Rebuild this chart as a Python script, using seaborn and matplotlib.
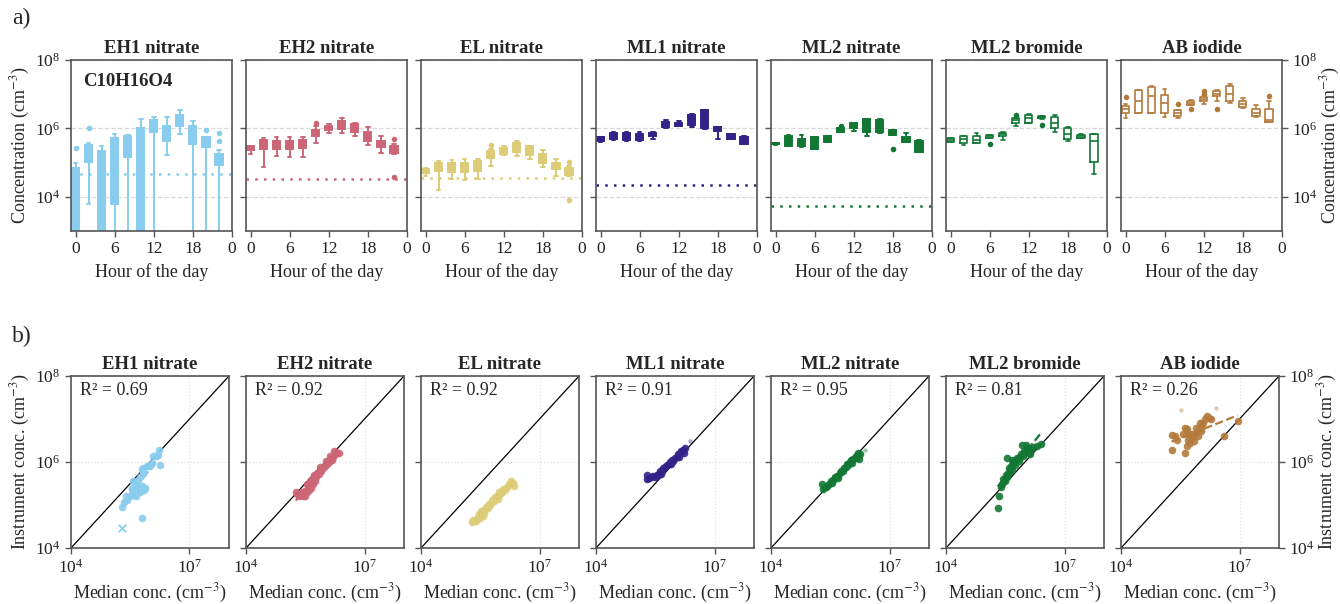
import numpy as np
import pandas as pd
import matplotlib
matplotlib.use("Agg")
import matplotlib.pyplot as plt
from matplotlib.ticker import NullLocator
import seaborn as sns

# ---- data (log10 of concentration, cm-3) ----
hours = [0, 2, 4, 6, 8, 10, 12, 14, 16, 18, 20, 22]
names = ["EH1 nitrate", "EH2 nitrate", "EL nitrate", "ML1 nitrate",
         "ML2 nitrate", "ML2 bromide", "AB iodide"]
colors = ["#88CCEE", "#CC6677", "#DDCC77", "#332288", "#117733", "#117733", "#B37A3C"]
filled = [True, True, True, True, True, False, False]
lod = [4.66, 4.52, 4.55, 4.35, 3.72, None, None]   # detection limit lines
r2 = ["0.69", "0.92", "0.92", "0.91", "0.95", "0.81", "0.26"]

# diurnal boxes: (whisker low, q1, median, q3, whisker high) per hour
box_eh1 = [(1.5, 2.0, 3.5, 4.85, 4.98), (3.80, 5.02, 5.30, 5.52, 5.58), (2.0, 2.5, 4.5, 5.34, 5.50),
           (2.0, 3.78, 5.0, 5.73, 5.85), (2.0, 5.17, 5.5, 5.78, 5.80), (2.0, 2.5, 5.0, 6.0, 6.27),
           (2.0, 5.89, 6.1, 6.24, 6.33), (5.22, 5.62, 5.85, 6.07, 6.33), (5.85, 6.07, 6.25, 6.39, 6.54),
           (2.0, 5.55, 5.85, 6.06, 6.22), (2.0, 5.47, 5.6, 5.74, 5.76), (2.0, 4.93, 5.1, 5.26, 5.36)]
box_eh2 = [(5.26, 5.36, 5.42, 5.48, 5.49), (4.86, 5.41, 5.55, 5.65, 5.72), (5.19, 5.40, 5.52, 5.63, 5.74),
           (5.17, 5.39, 5.50, 5.62, 5.74), (5.17, 5.42, 5.55, 5.67, 5.76), (5.58, 5.78, 5.88, 5.96, 6.06),
           (5.87, 5.94, 6.02, 6.08, 6.14), (5.88, 5.98, 6.10, 6.21, 6.31), (5.79, 5.90, 6.02, 6.12, 6.16),
           (5.52, 5.64, 5.78, 5.89, 6.05), (5.28, 5.45, 5.55, 5.63, 5.77), (5.26, 5.29, 5.40, 5.50, 5.55)]
box_el = [(4.61, 4.71, 4.77, 4.82, 4.83), (4.20, 4.75, 4.88, 5.00, 5.05), (4.53, 4.73, 4.85, 4.99, 5.08),
          (4.50, 4.73, 4.85, 4.99, 5.10), (4.52, 4.75, 4.90, 5.04, 5.10), (4.91, 5.14, 5.25, 5.34, 5.41),
          (5.23, 5.26, 5.35, 5.44, 5.48), (5.20, 5.30, 5.45, 5.56, 5.64), (5.11, 5.23, 5.38, 5.49, 5.50),
          (4.86, 4.98, 5.12, 5.26, 5.38), (4.61, 4.80, 4.90, 4.98, 5.11), (4.62, 4.65, 4.75, 4.85, 4.89)]
box_ml1 = [(5.61, 5.62, 5.68, 5.74, 5.75), (5.67, 5.68, 5.78, 5.88, 5.90), (5.64, 5.65, 5.77, 5.87, 5.90),
           (5.62, 5.67, 5.75, 5.84, 5.90), (5.68, 5.77, 5.83, 5.88, 5.89), (6.02, 6.03, 6.10, 6.18, 6.24),
           (6.07, 6.08, 6.12, 6.16, 6.22), (6.03, 6.11, 6.25, 6.40, 6.41), (5.99, 6.00, 6.25, 6.54, 6.55),
           (5.69, 5.91, 5.97, 6.04, 6.05), (5.69, 5.70, 5.77, 5.84, 5.85), (5.53, 5.54, 5.64, 5.74, 5.79)]
box_ml2n = [(5.52, 5.53, 5.55, 5.58, 5.58), (5.49, 5.50, 5.64, 5.78, 5.80), (5.47, 5.48, 5.60, 5.70, 5.80),
            (5.40, 5.41, 5.58, 5.74, 5.75), (5.59, 5.60, 5.68, 5.77, 5.78), (5.89, 5.90, 5.95, 6.00, 6.01),
            (5.93, 6.02, 6.09, 6.16, 6.17), (5.77, 5.89, 6.08, 6.27, 6.28), (5.88, 5.89, 6.07, 6.25, 6.27),
            (5.80, 5.81, 5.88, 5.94, 5.95), (5.60, 5.61, 5.68, 5.76, 5.88), (5.31, 5.32, 5.48, 5.64, 5.67)]
box_ml2b = [(5.60, 5.61, 5.66, 5.71, 5.72), (5.52, 5.58, 5.69, 5.77, 5.78), (5.57, 5.58, 5.67, 5.77, 5.86),
            (5.71, 5.72, 5.78, 5.81, 5.82), (5.65, 5.77, 5.83, 5.88, 5.89), (6.06, 6.17, 6.25, 6.29, 6.30),
            (6.16, 6.17, 6.29, 6.40, 6.43), (6.28, 6.29, 6.33, 6.36, 6.37), (5.89, 6.00, 6.17, 6.33, 6.40),
            (5.62, 5.69, 5.84, 6.01, 6.04), (5.72, 5.73, 5.78, 5.82, 5.83), (4.67, 5.02, 5.62, 5.83, 5.84)]
box_ab = [(6.31, 6.46, 6.56, 6.65, 6.70), (6.44, 6.46, 6.81, 7.11, 7.13), (6.44, 6.46, 6.96, 7.22, 7.24),
          (6.33, 6.44, 6.75, 6.97, 7.15), (6.29, 6.36, 6.46, 6.53, 6.55), (6.68, 6.69, 6.75, 6.81, 6.82),
          (6.72, 6.80, 6.86, 6.92, 6.94), (6.80, 6.94, 7.02, 7.10, 7.11), (6.75, 6.81, 7.02, 7.24, 7.30),
          (6.60, 6.62, 6.70, 6.79, 6.89), (6.34, 6.36, 6.46, 6.57, 6.68), (6.18, 6.20, 6.25, 6.56, 6.79)]
boxes = [box_eh1, box_eh2, box_el, box_ml1, box_ml2n, box_ml2b, box_ab]

# outliers: (hour, log10 value)
fl_eh1 = [(0, 5.43), (2, 6.0), (20, 5.96), (22, 5.88), (22, 5.62)]
fl_eh2 = [(10, 6.17), (22, 5.68), (22, 4.57)]
fl_el = [(10, 5.51), (22, 5.02), (22, 3.92)]
fl_ml1 = []
fl_ml2n = [(10, 6.08), (18, 5.41)]
fl_ml2b = [(6, 5.55), (10, 6.39), (14, 6.11)]
fl_ab = [(0, 6.91), (8, 6.72), (10, 6.56), (12, 7.10), (12, 7.01), (14, 6.58), (22, 6.96)]
fliers = [fl_eh1, fl_eh2, fl_el, fl_ml1, fl_ml2n, fl_ml2b, fl_ab]

# comparison: (log10 median conc, log10 instrument conc)
sc_eh1 = [(6.23, 6.27), (6.19, 6.17), (6.15, 6.13), (6.07, 6.13), (6.26, 5.94), (6.04, 5.97), (6.00, 5.90),
          (5.92, 5.90), (5.83, 5.86), (5.79, 5.83), (5.83, 5.75), (5.75, 5.66), (5.67, 5.55), (5.58, 5.55),
          (5.62, 5.47), (5.54, 5.40), (5.54, 5.36), (5.67, 5.40), (5.74, 5.38), (5.75, 5.30), (5.88, 5.40),
          (5.86, 5.36), (5.79, 5.44), (5.38, 5.20), (5.50, 5.20), (5.59, 5.24), (5.65, 5.20), (5.42, 5.12),
          (5.34, 5.08), (5.30, 4.96), (5.79, 4.70)]
sc_eh2 = [(5.26, 5.30), (5.30, 5.25), (5.35, 5.22), (5.40, 5.25), (5.45, 5.20), (5.50, 5.22), (5.42, 5.30),
          (5.50, 5.32), (5.55, 5.30), (5.60, 5.35), (5.58, 5.45), (5.65, 5.40), (5.70, 5.48), (5.62, 5.55),
          (5.68, 5.60), (5.75, 5.55), (5.78, 5.65), (5.72, 5.70), (5.80, 5.75), (5.85, 5.72), (5.90, 5.80),
          (5.88, 5.88), (5.95, 5.85), (6.00, 5.90), (6.05, 5.95), (6.02, 6.02), (6.10, 6.00), (6.15, 6.08),
          (6.12, 6.15), (6.20, 6.12), (6.25, 6.18), (6.30, 6.22), (6.35, 6.20), (6.22, 6.25), (6.18, 6.05),
          (5.55, 5.50), (5.65, 5.50)]
sc_el = [(5.28, 4.60), (5.32, 4.65), (5.38, 4.62), (5.42, 4.68), (5.45, 4.72), (5.50, 4.70), (5.55, 4.78),
         (5.52, 4.85), (5.60, 4.82), (5.62, 4.90), (5.65, 4.95), (5.70, 4.92), (5.72, 5.02), (5.78, 5.05),
         (5.80, 5.12), (5.85, 5.10), (5.88, 5.18), (5.92, 5.22), (5.95, 5.15), (6.00, 5.25), (6.05, 5.30),
         (6.08, 5.38), (6.12, 5.35), (6.18, 5.42), (6.22, 5.48), (6.28, 5.55), (6.32, 5.52), (6.35, 5.45),
         (5.48, 4.78), (5.58, 4.75), (5.75, 5.00), (5.98, 5.30)]
sc_ml1 = [(5.28, 5.70), (5.28, 5.60), (5.33, 5.62), (5.40, 5.65), (5.45, 5.68), (5.50, 5.65), (5.55, 5.70),
          (5.60, 5.72), (5.62, 5.80), (5.68, 5.78), (5.70, 5.85), (5.75, 5.88), (5.80, 5.92), (5.85, 5.95),
          (5.88, 6.00), (5.92, 6.05), (5.95, 6.02), (6.00, 6.10), (6.05, 6.12), (6.08, 6.18), (6.12, 6.20),
          (6.15, 6.25), (6.20, 6.28), (6.25, 6.32), (6.22, 6.22), (5.65, 5.72), (5.90, 5.95), (6.10, 6.12)]
sc_ml2n = [(5.30, 5.50), (5.32, 5.38), (5.38, 5.42), (5.42, 5.45), (5.48, 5.50), (5.52, 5.55), (5.55, 5.52),
           (5.60, 5.60), (5.62, 5.65), (5.68, 5.68), (5.70, 5.62), (5.75, 5.75), (5.78, 5.80), (5.82, 5.78),
           (5.85, 5.85), (5.90, 5.88), (5.92, 5.95), (5.95, 5.92), (6.00, 6.00), (6.02, 6.05), (6.05, 5.98),
           (6.08, 6.08), (6.12, 6.10), (6.15, 6.15), (6.18, 6.12), (6.20, 6.20), (6.22, 6.08), (6.25, 6.18)]
sc_ml2b = [(5.31, 4.93), (5.33, 5.22), (5.38, 5.42), (5.42, 5.50), (5.45, 5.60), (5.50, 5.55), (5.52, 5.70),
           (5.55, 5.65), (5.58, 5.75), (5.60, 5.85), (5.62, 5.78), (5.65, 5.90), (5.68, 5.82), (5.70, 5.95),
           (5.72, 6.00), (5.75, 5.92), (5.78, 6.05), (5.80, 6.10), (5.85, 6.02), (5.88, 6.12), (5.90, 6.18),
           (5.95, 6.15), (5.98, 6.25), (6.02, 6.40), (6.05, 6.32), (6.10, 6.28), (6.15, 6.30), (6.20, 6.35),
           (6.30, 6.38), (6.40, 6.42), (5.55, 6.10), (5.68, 6.05), (5.92, 6.40), (6.00, 6.22), (6.12, 6.18)]
sc_ab = [(5.28, 6.28), (5.37, 6.60), (5.28, 6.62), (5.42, 6.52), (5.61, 6.80), (5.66, 6.76), (5.61, 6.21),
         (5.66, 6.37), (5.70, 6.52), (5.80, 6.64), (5.89, 6.68), (5.99, 6.76), (6.03, 6.83), (6.08, 6.91),
         (6.13, 6.99), (6.18, 7.07), (6.22, 7.03), (6.27, 6.99), (6.03, 6.72), (5.94, 6.60), (5.84, 6.49),
         (5.75, 6.45), (5.80, 6.56), (5.70, 6.66), (5.56, 6.64), (5.89, 6.80), (5.99, 6.90), (6.60, 6.60),
         (6.95, 6.95)]
scatters = [sc_eh1, sc_eh2, sc_el, sc_ml1, sc_ml2n, sc_ml2b, sc_ab]
faint = [[], [], [], [(6.38, 6.50)], [(6.38, 6.28)], [], [(5.51, 7.22), (6.41, 7.25)]]
eh1_cross = (5.30, 4.47)

# ---- style ----
sns.set_style("ticks")
plt.rcParams["font.family"] = ["Liberation Serif", "DejaVu Serif"]
plt.rcParams["mathtext.fontset"] = "stix"
plt.rcParams["axes.edgecolor"] = "#555555"
plt.rcParams["axes.linewidth"] = 1.2
plt.rcParams["xtick.color"] = "#555555"
plt.rcParams["ytick.color"] = "#555555"
plt.rcParams["xtick.labelcolor"] = "#222222"
plt.rcParams["ytick.labelcolor"] = "#222222"

W, H = 1340, 604
fig = plt.figure(figsize=(13.4, 6.04), dpi=100)

def frame(ax, i, ylab):
    ax.set_yscale("log")
    ax.yaxis.set_minor_locator(NullLocator())
    ax.set_yticks([1e4, 1e6, 1e8])
    ax.tick_params(labelsize=12.5, length=4, width=1.0, direction="out")
    ax.set_ylabel("")
    if i == 0:
        ax.set_ylabel(ylab, fontsize=13, labelpad=2)
    elif i == 6:
        ax.tick_params(left=True, right=True, labelleft=False, labelright=True)
        ax.yaxis.set_label_position("right")
        ax.set_ylabel(ylab, fontsize=13, labelpad=1)
    else:
        ax.tick_params(labelleft=False)
    ax.set_title(names[i], fontsize=13.5, fontweight="bold", pad=5)

for i in range(7):
    left = (71 + 175 * i) / W
    c = colors[i]

    # ---- a) diurnal boxplots ----
    ax = fig.add_axes([left, 1 - 231 / H, 161 / W, 171 / H])
    rows = []
    for h, b in zip(hours, boxes[i]):
        for v in b:
            rows.append({"hour": h, "conc": 10 ** v})
    df = pd.DataFrame(rows)
    ax.grid(axis="y", color="#d9d9d9", linestyle="--", linewidth=0.9)
    if lod[i] is not None:
        ax.axhline(10 ** lod[i], color=c, linestyle=(0, (1, 2.5)), linewidth=1.8, zorder=1)
    if filled[i]:
        sns.boxplot(data=df, x="hour", y="conc", native_scale=True, log_scale=(False, True),
                    whis=(0, 100), width=0.55, color=c, linecolor=c, saturation=1,
                    linewidth=1.4, showfliers=False, ax=ax)
    else:
        sns.boxplot(data=df, x="hour", y="conc", native_scale=True, log_scale=(False, True),
                    whis=(0, 100), width=0.55, color=c, fill=False, saturation=1,
                    linewidth=1.2, showfliers=False, ax=ax)
    if fliers[i]:
        fx = [p[0] for p in fliers[i]]
        fy = [10 ** p[1] for p in fliers[i]]
        sns.scatterplot(x=fx, y=fy, color=c, s=16, linewidth=0, ax=ax, legend=False, zorder=3)
    frame(ax, i, "Concentration (cm$^{-3}$)")
    ax.set_ylim(1e3, 1e8)
    ax.set_xlim(-0.7, 24)
    ax.set_xticks([0, 6, 12, 18, 24])
    ax.set_xticklabels(["0", "6", "12", "18", "0"])
    ax.set_xlabel("Hour of the day", fontsize=13)
    if i == 0:
        ax.text(0.075, 0.875, "C10H16O4", transform=ax.transAxes, fontsize=13.5,
                fontweight="bold", va="center")

    # ---- b) instrument vs median ----
    bx = fig.add_axes([left, 1 - 548 / H, 158 / W, 172 / H])
    bx.set_xscale("log")
    bx.grid(color="#e3e3e3", linestyle=":", linewidth=0.9)
    bx.axline((1e4, 1e4), (1e8, 1e8), color="black", linewidth=0.9, zorder=2)
    sx = np.array([p[0] for p in scatters[i]])
    sy = np.array([p[1] for p in scatters[i]])
    sns.scatterplot(x=10 ** sx, y=10 ** sy, color=c, s=30, linewidth=0, alpha=0.9,
                    ax=bx, legend=False, zorder=3)
    if faint[i]:
        sns.scatterplot(x=[10 ** p[0] for p in faint[i]], y=[10 ** p[1] for p in faint[i]],
                        color=c, s=10, linewidth=0, alpha=0.4, ax=bx, legend=False, zorder=3)
    if i == 0:
        sns.scatterplot(x=[10 ** eh1_cross[0]], y=[10 ** eh1_cross[1]], color=c, marker="x",
                        s=30, linewidth=1.3, ax=bx, legend=False, zorder=3)
    # linear fit in log space over the data range
    k, b0 = np.polyfit(sx, sy, 1)
    fx = np.array([sx.min(), sx.max()])
    sns.lineplot(x=10 ** fx, y=10 ** (k * fx + b0), color=c, linestyle="--", linewidth=1.6,
                 ax=bx, zorder=2.5)
    frame(bx, i, "Instrument conc. (cm$^{-3}$)")
    bx.set_xlim(1e4, 1e8)
    bx.set_ylim(1e4, 1e8)
    bx.xaxis.set_minor_locator(NullLocator())
    bx.set_xticks([1e4, 1e7])
    bx.set_xlabel("Median conc. (cm$^{-3}$)", fontsize=13)
    bx.text(0.055, 0.915, "R² = " + r2[i], transform=bx.transAxes, fontsize=13, va="center")

fig.text(12 / W, 1 - 8 / H, "a)", fontsize=17, va="top")
fig.text(12 / W, 1 - 326 / H, "b)", fontsize=17, va="top")

fig.savefig("out.png", dpi=100)
